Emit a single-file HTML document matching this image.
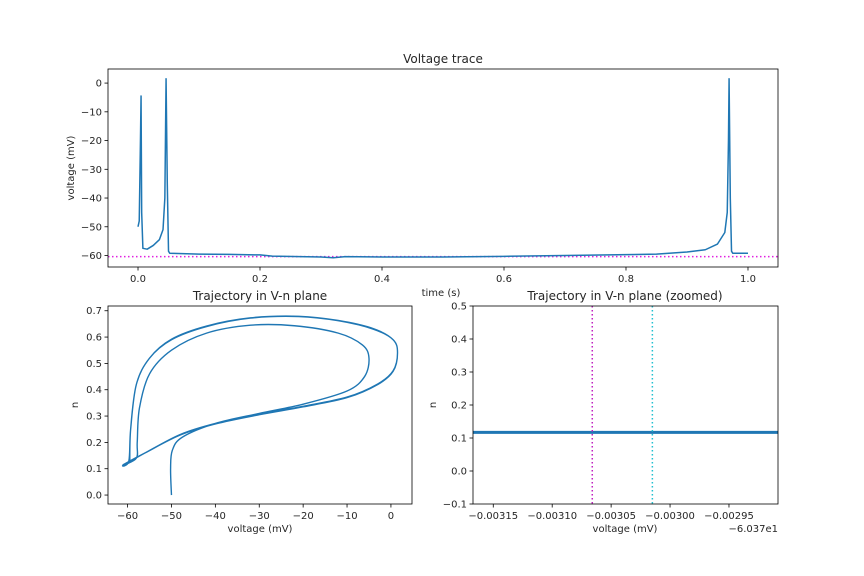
<!DOCTYPE html>
<html><head><meta charset="utf-8"><style>
body{margin:0;background:#fff}
svg{display:block;font-family:"DejaVu Sans","Liberation Sans",sans-serif}
</style></head><body>
<svg id="fig" width="864" height="576" viewBox="0 0 864 576"></svg>
<script>
// ---- data ----
const traceT = [0,0.002,0.004,0.005,0.006,0.008,0.015,0.025,0.035,0.041,0.044,0.046,0.048,0.050,0.052,0.1,0.15,0.2,0.22,0.3,0.32,0.34,0.4,0.5,0.6,0.7,0.8,0.85,0.9,0.93,0.95,0.962,0.966,0.968,0.969,0.971,0.973,0.975,1.0];
const traceV = [-50,-48,-20,-4.5,-45,-57.5,-57.8,-56.5,-54.5,-51,-40,1.5,-35,-58.5,-59.2,-59.5,-59.6,-59.8,-60.2,-60.5,-60.8,-60.4,-60.5,-60.5,-60.3,-60.0,-59.7,-59.5,-58.8,-58,-56,-52,-45,-20,1.5,-40,-58.5,-59.2,-59.2];
const restV = -60.37;
const phaseV = [-50,-50.2,-49.8,-47.5,-40,-30,-20,-10,-6,-5,-6.5,-12,-22,-32,-42,-50,-55,-57.3,-57.8,-58,-61,-56,-48,-40,-30,-20,-10,-3,0.5,1.5,0.5,-4,-12,-21,-32,-42,-50,-55,-58,-59.3,-59.7,-61,-56,-48,-40,-30,-20,-10,-3,0.5,1.5,0.5,-4,-12,-21,-32,-42,-50,-55,-58,-59.3,-59.5];
const phaseN = [0,0.1,0.17,0.22,0.272,0.31,0.345,0.395,0.45,0.52,0.57,0.615,0.643,0.645,0.615,0.55,0.46,0.33,0.2,0.14,0.115,0.16,0.228,0.27,0.305,0.335,0.37,0.42,0.47,0.54,0.59,0.63,0.662,0.678,0.672,0.64,0.59,0.52,0.42,0.25,0.13,0.113,0.16,0.23,0.272,0.307,0.337,0.372,0.422,0.472,0.54,0.59,0.632,0.663,0.679,0.673,0.642,0.592,0.52,0.42,0.25,0.125];
const zoomN = 0.117;
const zoomMag = -0.003066, zoomCyan = -0.003015;
const topXTicks = [0,0.2,0.4,0.6,0.8,1.0], topXLabels=["0.0","0.2","0.4","0.6","0.8","1.0"];
const topYTicks = [0,-10,-20,-30,-40,-50,-60], topYLabels=["0","−10","−20","−30","−40","−50","−60"];
const blXTicks = [-60,-50,-40,-30,-20,-10,0], blXLabels=["−60","−50","−40","−30","−20","−10","0"];
const blYTicks = [0,0.1,0.2,0.3,0.4,0.5,0.6,0.7], blYLabels=["0.0","0.1","0.2","0.3","0.4","0.5","0.6","0.7"];
const brXTicks = [-0.00315,-0.0031,-0.00305,-0.003,-0.00295], brXLabels=["−0.00315","−0.00310","−0.00305","−0.00300","−0.00295"];
const brYTicks = [-0.1,0,0.1,0.2,0.3,0.4,0.5], brYLabels=["−0.1","0.0","0.1","0.2","0.3","0.4","0.5"];

const NS="http://www.w3.org/2000/svg", svg=document.getElementById('fig');
function el(t,a,p){const e=document.createElementNS(NS,t);for(const k in a)e.setAttribute(k,a[k]);(p||svg).appendChild(e);return e;}
function axes(name,L,R,T,B,x0,x1,y0,y1){
  const g=el('g',{});
  
  
  return {g,L,R,T,B,sx:v=>L+(v-x0)/(x1-x0)*(R-L),sy:v=>B-(v-y0)/(y1-y0)*(B-T)};
}
function txt(p,x,y,s,opts,name){const t=el('text',Object.assign({x,y,'font-size':10,fill:'#262626'},opts||{}),p);t.textContent=s;
  
  return t;}
function frame(a,xt,xl,yt,yl){
  for(let i=0;i<xt.length;i++){const x=a.sx(xt[i]);el('line',{x1:x,x2:x,y1:a.B,y2:a.B+3.5,stroke:'#000','stroke-width':0.8},a.g);txt(a.g,x,a.B+15,xl[i],{'text-anchor':'middle'},'x-tick-label');}
  for(let i=0;i<yt.length;i++){const y=a.sy(yt[i]);el('line',{x1:a.L-3.5,x2:a.L,y1:y,y2:y,stroke:'#000','stroke-width':0.8},a.g);txt(a.g,a.L-6,y+3.5,yl[i],{'text-anchor':'end'},'y-tick-label');}
}
function box(a){const r=el('rect',{x:a.L,y:a.T,width:a.R-a.L,height:a.B-a.T,fill:'none',stroke:'#000','stroke-width':0.8},a.g);}
function path(a,xs,ys,opts,name){
  let d='';const P=xs.map((x,i)=>[a.sx(x),a.sy(ys[i])]);
  d='M'+P[0][0]+','+P[0][1];
  for(let i=0;i<P.length-1;i++){const p0=P[Math.max(0,i-1)],p1=P[i],p2=P[i+1],p3=P[Math.min(P.length-1,i+2)];
    if(opts.smooth){d+=' C'+(p1[0]+(p2[0]-p0[0])/6)+','+(p1[1]+(p2[1]-p0[1])/6)+' '+(p2[0]-(p3[0]-p1[0])/6)+','+(p2[1]-(p3[1]-p1[1])/6)+' '+p2[0]+','+p2[1];}
    else d+=' L'+p2[0]+','+p2[1];}
  const e=el('path',{d,fill:'none',stroke:'#1f77b4','stroke-width':opts.w||1.5,'stroke-linejoin':'round'},a.g);
  
}
// top
const A=axes('voltage-trace-axes',108,778,69,267,-0.0492,1.0492,-64,4.9);
frame(A,topXTicks,topXLabels,topYTicks,topYLabels);
const rl=el('line',{x1:A.L,x2:A.R,y1:A.sy(restV),y2:A.sy(restV),stroke:'#e020e0','stroke-width':1.5,'stroke-dasharray':'1.5,2.5'},A.g);

path(A,traceT,traceV,{w:1.5},'voltage-trace');
box(A);
txt(A.g,443,63,'Voltage trace',{'text-anchor':'middle','font-size':12},'title');
txt(A.g,441,296,'time (s)',{'text-anchor':'middle'},'x-axis-title');
txt(A.g,74,168,'voltage (mV)',{'text-anchor':'middle',transform:'rotate(-90 74 168)'},'y-axis-title');
// bottom-left
const B=axes('phase-plane-axes',108,412,306,504,-64.46,4.8,-0.034,0.718);
frame(B,blXTicks,blXLabels,blYTicks,blYLabels);
path(B,phaseV,phaseN,{smooth:true,w:1.4},'phase-trajectory');
box(B);
txt(B.g,260,300,'Trajectory in V-n plane',{'text-anchor':'middle','font-size':12},'title');
txt(B.g,260,532,'voltage (mV)',{'text-anchor':'middle'},'x-axis-title');
txt(B.g,78,405,'n',{'text-anchor':'middle',transform:'rotate(-90 78 405)'},'y-axis-title');
// bottom-right
const C=axes('zoomed-phase-axes',473,778,306,504,-0.0031672,-0.0029084,-0.1,0.5);
frame(C,brXTicks,brXLabels,brYTicks,brYLabels);
const zl=el('line',{x1:C.L,x2:C.R,y1:C.sy(zoomN),y2:C.sy(zoomN),stroke:'#1f77b4','stroke-width':3},C.g);

const m=el('line',{x1:C.sx(zoomMag),x2:C.sx(zoomMag),y1:C.T,y2:C.B,stroke:'#c020c0','stroke-width':1.5,'stroke-dasharray':'1.5,2.5'},C.g);

const c=el('line',{x1:C.sx(zoomCyan),x2:C.sx(zoomCyan),y1:C.T,y2:C.B,stroke:'#20c0d0','stroke-width':1.5,'stroke-dasharray':'1.5,2.5'},C.g);

box(C);
txt(C.g,625,300,'Trajectory in V-n plane (zoomed)',{'text-anchor':'middle','font-size':12},'title');
txt(C.g,625,532,'voltage (mV)',{'text-anchor':'middle'},'x-axis-title');
txt(C.g,778,532,'−6.037e1',{'text-anchor':'end'},'x-offset-label');
txt(C.g,436,405,'n',{'text-anchor':'middle',transform:'rotate(-90 436 405)'},'y-axis-title');
</script>
</body></html>
